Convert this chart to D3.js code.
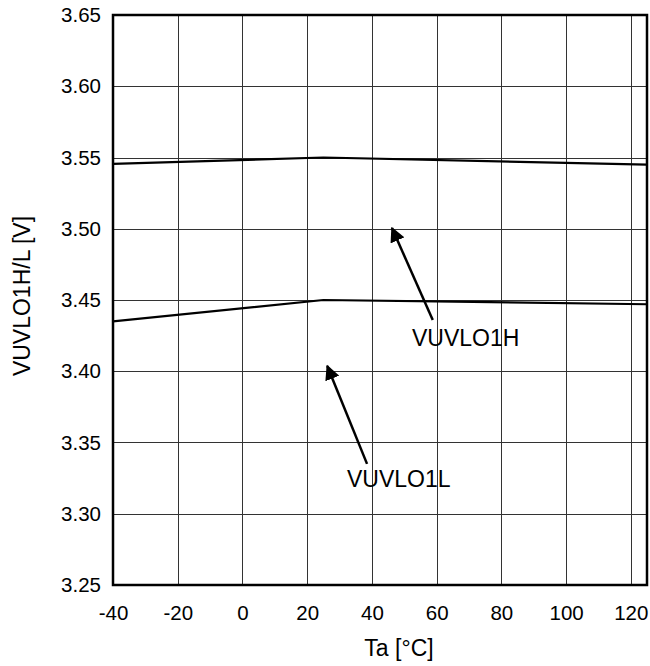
<!DOCTYPE html>
<html>
<head>
  <meta charset="utf-8">
  <script src="https://d3js.org/d3.v7.min.js"></script>
  <style>
    body { margin: 0; background: #fff; }
    text { font-family: Arial, "Liberation Sans", sans-serif; fill: #000; }
  </style>
</head>
<body>
<svg id="chart" width="650" height="666"></svg>
<script>
// data
var temps = [-40, 25, 125];
var vuvloH = [3.5455, 3.550, 3.545];
var vuvloL = [3.435, 3.450, 3.447];

var xTicks = [-40, -20, 0, 20, 40, 60, 80, 100, 120];
var yTicks = [3.25, 3.30, 3.35, 3.40, 3.45, 3.50, 3.55, 3.60, 3.65];

// annotation anchors in data units: [tipT, tipV, tailT, tailV, textT, textV]
var labels = ["VUVLO1H", "VUVLO1L"];
var arrows = [
  [46.2, 3.5005, 58.8, 3.436, 52.4, 3.418],
  [26.2, 3.4037, 38.5, 3.335, 32.3, 3.319]
];

var margin = {top: 15, right: 3, bottom: 81, left: 113};
var width = 650 - margin.left - margin.right;
var height = 666 - margin.top - margin.bottom;

var svg = d3.select("#chart");
var g = svg.append("g").attr("transform", "translate(" + margin.left + "," + margin.top + ")");

var x = d3.scaleLinear().domain([-40, 125]).range([0, width]);
var y = d3.scaleLinear().domain([3.25, 3.65]).range([height, 0]);

// grid
g.selectAll("line.vgrid").data(xTicks.slice(1)).enter().append("line")
  .attr("class", "vgrid")
  .attr("x1", d => Math.round(x(d)) + 0.5).attr("x2", d => Math.round(x(d)) + 0.5)
  .attr("y1", 0).attr("y2", height)
  .style("stroke", "#333").style("stroke-width", 1);

g.selectAll("line.hgrid").data(yTicks.slice(1, -1)).enter().append("line")
  .attr("class", "hgrid")
  .attr("x1", 0).attr("x2", width)
  .attr("y1", d => Math.round(y(d)) + 0.5).attr("y2", d => Math.round(y(d)) + 0.5)
  .style("stroke", "#333").style("stroke-width", 1);

// axes (labels only, frame drawn separately)
var xAxis = g.append("g").attr("transform", "translate(0," + height + ")")
  .call(d3.axisBottom(x).tickValues(xTicks).tickSize(0).tickPadding(20).tickFormat(d => String(d)));
var yAxis = g.append("g")
  .call(d3.axisLeft(y).tickValues(yTicks).tickSize(0).tickPadding(12).tickFormat(d3.format(".2f")));
[xAxis, yAxis].forEach(function(a) {
  a.select(".domain").remove();
  a.selectAll("text").style("font-size", "20.5px").style("font-family", "Arial, 'Liberation Sans', sans-serif");
});

// frame
g.append("rect").attr("x", 0).attr("y", 0).attr("width", width).attr("height", height)
  .style("fill", "none").style("stroke", "#000").style("stroke-width", 2.5);

// series
var line = d3.line().x(d => x(d[0])).y(d => y(d[1]));
[vuvloH, vuvloL].forEach(function(vals) {
  g.append("path")
    .datum(temps.map((t, i) => [t, vals[i]]))
    .attr("d", line)
    .style("fill", "none").style("stroke", "#000").style("stroke-width", 2.2);
});

// arrows
svg.append("defs").append("marker")
  .attr("id", "head").attr("viewBox", "0 0 10 10")
  .attr("refX", 9).attr("refY", 5)
  .attr("markerWidth", 6).attr("markerHeight", 6)
  .attr("markerUnits", "strokeWidth")
  .attr("orient", "auto")
  .append("path").attr("d", "M0,0 L10,5 L0,10 z").style("fill", "#000");

arrows.forEach(function(a, i) {
  g.append("line")
    .attr("x1", x(a[2])).attr("y1", y(a[3]))
    .attr("x2", x(a[0])).attr("y2", y(a[1]))
    .attr("marker-end", "url(#head)")
    .style("stroke", "#000").style("stroke-width", 2.5);
  g.append("text")
    .attr("x", x(a[4])).attr("y", y(a[5]))
    .style("font-size", "23px")
    .text(labels[i]);
});

// axis titles
g.append("text")
  .attr("x", width / 2 + 19).attr("y", height + 71)
  .attr("text-anchor", "middle").style("font-size", "23px")
  .text("Ta [°C]");

g.append("text")
  .attr("transform", "translate(" + (-margin.left + 30) + "," + (height / 2 - 4) + ") rotate(-90)")
  .attr("text-anchor", "middle").style("font-size", "23px")
  .text("VUVLO1H/L [V]");
</script>
</body>
</html>
